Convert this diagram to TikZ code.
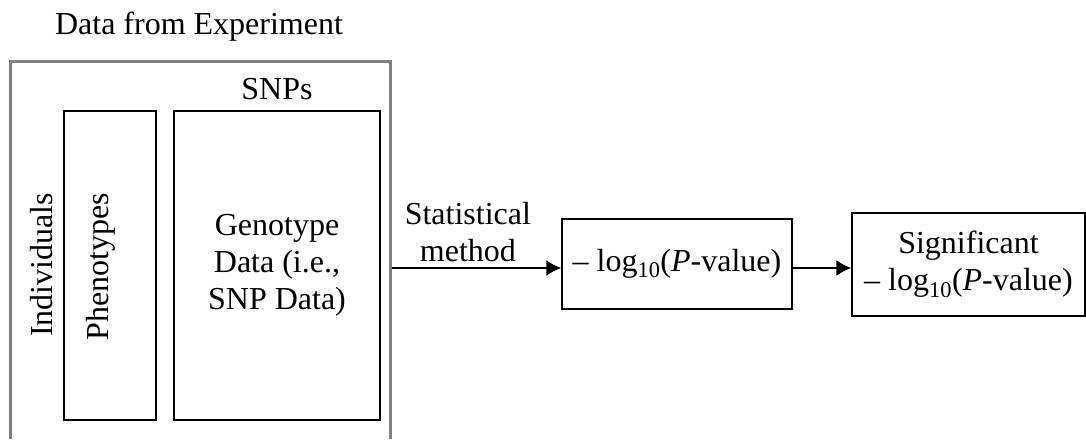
\documentclass[tikz,border=0pt]{standalone}
\usepackage{fontspec}
\setmainfont{Liberation Serif}
\usetikzlibrary{arrows.meta}
\begin{document}
\begin{tikzpicture}[x=1pt, y=-1pt,
        box/.style={draw, line width=1.5pt, inner sep=0pt},
        flow/.style={line width=1.5pt, -{Latex[length=15pt, width=16pt]}},
        every node/.style={font=\fontsize{32}{37}\selectfont}]
    \useasboundingbox (0,0) rectangle (1086,439);

    % data from the experiment (open at the bottom)
    \draw[line width=3pt, gray] (10,439) -- (10,61) -- (390,61) -- (390,439);
    \node (title) at (199,27) {Data from Experiment};
    \node (snps)  at (277,89) {SNPs};

    \node[rotate=90] (indiv) at (42,265) {Individuals};
    \node[box, minimum width=92pt, minimum height=309pt] (pheno) at (110,265.5) {};
    \node[rotate=90] (phenolabel) at (101,267) {Phenotypes};
    \node[box, minimum width=206pt, minimum height=309pt, align=center] (geno) at (277,265.5)
        {Genotype\\Data (i.e.,\\SNP Data)};

    % results
    \node[box, minimum width=230pt, minimum height=90pt] (pval) at (677,264)
        {\textendash{} log\textsubscript{10}(\textit{P}-value)};
    \node[box, minimum width=233pt, minimum height=103pt, align=center] (sig) at (968.5,264.5)
        {Significant\\\textendash{} log\textsubscript{10}(\textit{P}-value)};

    \coordinate (dataedge) at (391.5,268);
    \draw[flow] (dataedge) -- (dataedge -| pval.west)
        node[pos=0.45, above, inner sep=5pt, align=center] (method) {Statistical\\method};
    \draw[flow] (pval.east |- dataedge) -- (sig.west |- dataedge);
\end{tikzpicture}
\end{document}
